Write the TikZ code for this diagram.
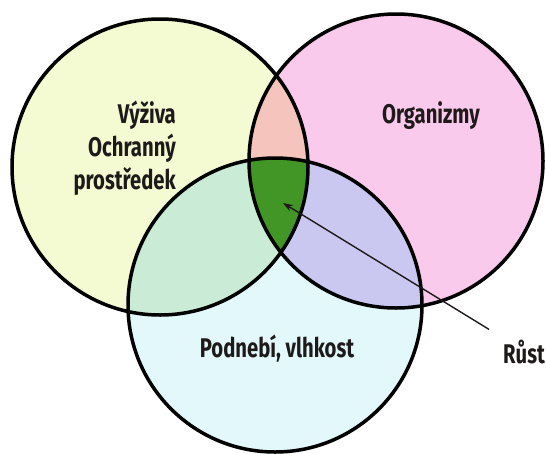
\documentclass[tikz,border=0pt]{standalone}
\usepackage{fontspec}
\newfontfamily\vennfont{Fira Sans}[FakeStretch=0.75]
\usepackage{xcolor}
\usepackage{tikz}
\usetikzlibrary{arrows.meta}
\definecolor{nutriyellow}{RGB}{244,250,210}
\definecolor{organpink}{RGB}{250,202,236}
\definecolor{climatecyan}{RGB}{226,248,251}
\definecolor{salmonmix}{RGB}{245,196,188}
\definecolor{mintmix}{RGB}{202,235,214}
\definecolor{lavendermix}{RGB}{202,200,240}
\definecolor{growthgreen}{RGB}{66,150,38}
\definecolor{inkblack}{RGB}{30,26,26}

\begin{document}
\begin{tikzpicture}[
    x=1pt, y=-1pt,
    outline/.style={draw=black, line width=3.5pt},
    venntext/.style={font=\vennfont\bfseries\fontsize{27}{32}\selectfont, text=inkblack, inner sep=0pt},
    arrow/.style={-{Stealth[length=10pt,width=7pt]}, line width=1.4pt, draw=inkblack}
]
\useasboundingbox (0,0) rectangle (546,453);

% Circle centres
\coordinate (nutri) at (160,167);
\coordinate (organ) at (396,161);
\coordinate (climate) at (275,305);

% Base fills
\fill[nutriyellow] (nutri) circle[radius=148pt];
\fill[organpink] (organ) circle[radius=147pt];
\fill[climatecyan] (climate) circle[radius=147pt];

% Pairwise overlaps
\begin{scope}
    \clip (nutri) circle[radius=148pt];
    \fill[salmonmix] (organ) circle[radius=147pt];
    \fill[mintmix] (climate) circle[radius=147pt];
\end{scope}
\begin{scope}
    \clip (organ) circle[radius=147pt];
    \fill[lavendermix] (climate) circle[radius=147pt];
\end{scope}

% Centre overlap
\begin{scope}
    \clip (nutri) circle[radius=148pt];
    \clip (organ) circle[radius=147pt];
    \fill[growthgreen] (climate) circle[radius=147pt];
\end{scope}

% Outlines
\draw[outline] (nutri) circle[radius=148pt];
\draw[outline] (organ) circle[radius=147pt];
\draw[outline] (climate) circle[radius=147pt];

% Labels
\node[venntext, anchor=base east] (vyziva) at (176,123) {Výživa};
\node[venntext, anchor=base east] (ochranny) at (176,156) {Ochranný};
\node[venntext, anchor=base east] (prostredek) at (176,189) {prostředek};
\node[venntext, anchor=base] (organizmy) at (431,123) {Organizmy};
\node[venntext, anchor=base] (podnebi) at (277,357) {Podnebí, vlhkost};
\node[venntext, anchor=base west] (rust) at (503,363) {Růst};

% Arrow to the centre
\coordinate (growth) at (283,203);
\draw[arrow] ([shift={(-14pt,10pt)}]rust.north west) -- (growth);

\end{tikzpicture}
\end{document}
